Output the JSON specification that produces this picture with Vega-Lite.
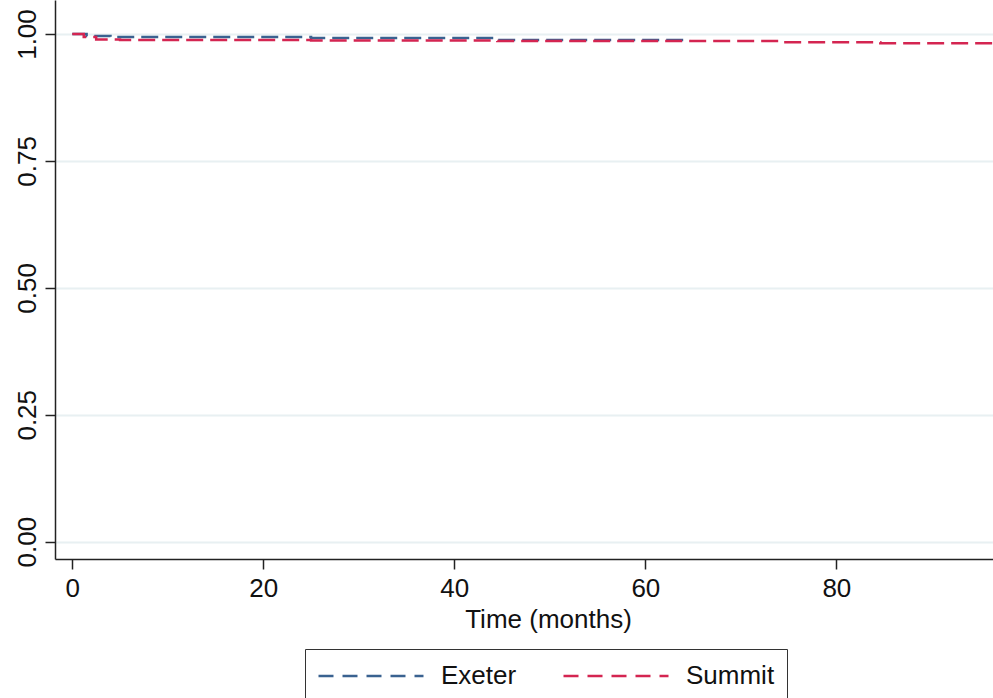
{
  "$schema": "https://vega.github.io/schema/vega-lite/v6.json",
  "autosize": {"type": "none"},
  "padding": {"left": 55, "top": 0, "right": 0, "bottom": 139},
  "width": 938,
  "height": 559,
  "background": "white",
  "config": {
    "view": {"stroke": null},
    "font": "Liberation Sans",
    "axis": {
      "labelFont": "Liberation Sans",
      "titleFont": "Liberation Sans",
      "labelFontSize": 26,
      "titleFontSize": 26,
      "titleFontWeight": "normal",
      "labelColor": "#111",
      "titleColor": "#111",
      "domainColor": "#222",
      "domainWidth": 1.5,
      "tickColor": "#222",
      "tickWidth": 1.5,
      "tickSize": 10
    }
  },
  "data": {
    "values": [
      {"group": "Exeter", "t": 0, "s": 1.0},
      {"group": "Exeter", "t": 1.5, "s": 0.996},
      {"group": "Exeter", "t": 4, "s": 0.994},
      {"group": "Exeter", "t": 25, "s": 0.992},
      {"group": "Exeter", "t": 44.5, "s": 0.988},
      {"group": "Exeter", "t": 64.7, "s": 0.988},
      {"group": "Summit", "t": 0, "s": 1.0},
      {"group": "Summit", "t": 1.2, "s": 0.994},
      {"group": "Summit", "t": 2.5, "s": 0.989},
      {"group": "Summit", "t": 5, "s": 0.988},
      {"group": "Summit", "t": 25, "s": 0.987},
      {"group": "Summit", "t": 44.5, "s": 0.986},
      {"group": "Summit", "t": 74.5, "s": 0.984},
      {"group": "Summit", "t": 84.6, "s": 0.982},
      {"group": "Summit", "t": 97, "s": 0.982}
    ]
  },
  "mark": {"type": "line", "interpolate": "step-after", "strokeWidth": 2.5, "strokeDash": [17, 7], "clip": true},
  "encoding": {
    "x": {
      "field": "t", "type": "quantitative",
      "scale": {"domain": [-1.81, 96.4], "nice": false, "zero": false},
      "axis": {
        "values": [0, 20, 40, 60, 80],
        "grid": false,
        "labelPadding": 6,
        "title": "Time (months)",
        "titlePadding": 5,
        "titleX": 493,
        "titleAlign": "center",
        "titleAnchor": null
      }
    },
    "y": {
      "field": "s", "type": "quantitative",
      "scale": {"domain": [-0.0341, 1.067], "nice": false, "zero": false},
      "axis": {
        "values": [0, 0.25, 0.5, 0.75, 1],
        "format": ".2f",
        "labelAngle": 270,
        "labelAlign": "center",
        "labelBaseline": "bottom",
        "labelPadding": 5,
        "grid": true,
        "gridColor": "#e8f0f2",
        "gridWidth": 2,
        "title": null
      }
    },
    "stroke": {
      "field": "group", "type": "nominal",
      "scale": {"domain": ["Exeter", "Summit"], "range": ["#3a6290", "#d42551"]},
      "legend": {
        "title": null,
        "orient": "none",
        "legendX": 250,
        "legendY": 649,
        "direction": "horizontal",
        "columns": 2,
        "padding": 12,
        "strokeColor": "#333",
        "fillColor": "white",
        "cornerRadius": 0,
        "symbolType": "stroke",
        "symbolSize": 11025,
        "symbolStrokeWidth": 2.5,
        "symbolDash": [15, 9],
        "clipHeight": 30,
        "labelFont": "Liberation Sans",
        "labelFontSize": 26,
        "labelColor": "#111",
        "labelOffset": 16,
        "columnPadding": 45
      }
    }
  }
}
